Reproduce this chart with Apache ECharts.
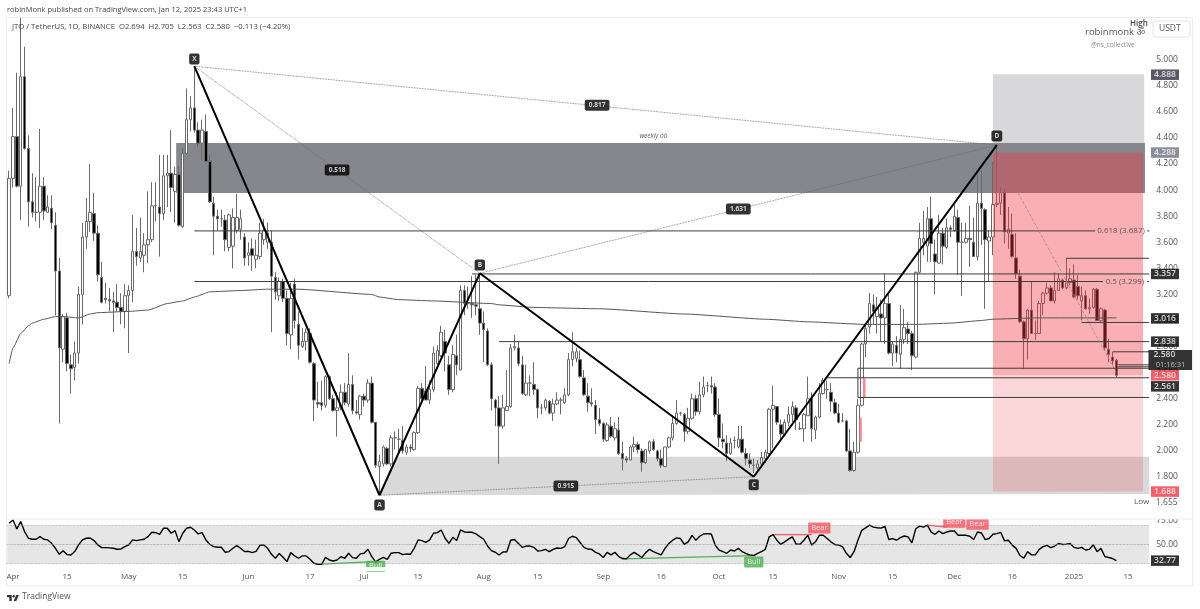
<!DOCTYPE html>
<html>
<head>
<meta charset="utf-8">
<style>html,body{margin:0;background:#fff}#chart{width:1200px;height:609px}</style>
<script src="https://cdn.jsdelivr.net/npm/echarts@6/dist/echarts.min.js"></script>
</head>
<body>
<div id="chart"></div>
<script>
// daily candles, [open, close, low, high]
const marCandles = [[3.19,4.09,3.17,4.15]]
const aprCandles = [[4.09,4.41,4.02,4.63],[4.41,4.03,4.02,4.9],[4.03,4.87,3.77,5.32],[4.87,4.32,4.31,5.1],[4.32,3.91,3.72,4.42],[3.91,3.83,3.79,4.13],[3.83,3.83,3.76,4.1],[3.83,4.03,3.71,4.47],[4.03,3.84,3.77,4.1],[3.83,3.87,3.83,3.96],[3.86,3.75,3.7,3.96],[3.73,3.38,3.04,3.83],[3.38,2.79,2.21,3.48],[2.78,3.03,2.68,3.05],[3.02,2.67,2.61,3.06],[2.66,2.63,2.44,2.74],[2.64,2.75,2.54,2.84],[2.75,3.2,2.67,3.26],[3.2,3.64,2.97,3.75],[3.64,3.76,3.55,3.94],[3.76,3.83,3.68,4.2],[3.82,3.67,3.61,3.98],[3.67,3.35,3.3,3.73],[3.33,3.14,3.13,3.45],[3.17,3.16,3.13,3.29],[3.16,3.15,3.07,3.25],[3.15,3.14,2.91,3.22],[3.14,3.1,3.07,3.28],[3.1,3.07,2.97,3.21],[3.07,3.19,2.94,3.28]]
const mayCandles = [[3.19,3.23,2.75,3.27],[3.23,3.53,3.14,3.81],[3.53,3.49,3.42,3.71],[3.48,3.53,3.45,3.79],[3.5,3.58,3.37,3.67],[3.58,3.62,3.44,3.99],[3.62,3.88,3.6,4.06],[3.88,3.88,3.76,4.06],[3.87,3.82,3.49,4.27],[3.82,4.11,3.77,4.27],[4.11,4.13,3.87,4.27],[4.13,4.02,3.83,4.46],[3.99,4.12,3.75,4.18],[4.12,3.73,3.72,4.18],[3.72,4.28,3.71,4.32],[4.28,4.54,4.28,4.78],[4.54,4.63,4.45,4.72],[4.63,4.46,4.44,4.95],[4.46,4.36,4.33,4.52],[4.36,4.46,4.23,4.54],[4.45,4.22,4.22,4.58],[4.22,3.91,3.9,4.27],[3.9,3.8,3.5,3.95],[3.8,3.78,3.69,3.85],[3.78,3.78,3.72,3.85],[3.77,3.62,3.53,3.81],[3.56,3.81,3.53,3.82],[3.57,3.79,3.4,3.86],[3.69,3.79,3.67,3.97],[3.7,3.78,3.62,3.85],[3.64,3.48,3.42,3.67]]
const junCandles = [[3.5,3.52,3.42,3.6],[3.55,3.5,3.38,3.63],[3.47,3.5,3.4,3.62],[3.49,3.67,3.47,3.75],[3.62,3.69,3.58,3.78],[3.6,3.67,3.55,3.75],[3.6,3.34,2.91,3.69],[3.33,3.22,3.16,3.37],[3.19,3.3,3.15,3.33],[3.3,3.17,3.14,3.32],[3.17,2.9,2.81,3.23],[2.89,3.17,2.78,3.29],[3.28,3,2.94,3.32],[2.97,2.81,2.7,3.07],[2.8,2.84,2.79,2.94],[2.84,2.91,2.77,2.94],[2.9,2.68,2.67,2.94],[2.67,2.39,2.23,2.68],[2.37,2.36,2.33,2.53],[2.37,2.35,2.31,2.54],[2.35,2.57,2.33,2.58],[2.57,2.4,2.39,2.58],[2.4,2.31,2.3,2.43],[2.31,2.33,2.11,2.45],[2.33,2.45,2.31,2.51],[2.45,2.37,2.35,2.52],[2.36,2.51,2.34,2.75],[2.51,2.31,2.28,2.58],[2.3,2.29,2.28,2.39],[2.28,2.42,2.24,2.43]]
const julCandles = [[2.42,2.39,2.34,2.44],[2.39,2.52,2.37,2.55],[2.52,2.22,2.21,2.57],[2.22,1.89,1.87,2.22],[1.88,1.92,1.66,1.97],[1.9,2.03,1.88,2.04],[2.02,1.9,1.89,2.03],[1.9,2.1,1.88,2.12],[2.1,2.1,2.01,2.15],[2.09,2.09,1.98,2.17],[2.08,2,1.98,2.19],[1.99,2.03,1.97,2.05],[2.03,2.02,1.99,2.05],[2.01,2.14,2,2.15],[2.14,2.48,2.13,2.5],[2.48,2.4,2.36,2.52],[2.46,2.39,2.39,2.65],[2.39,2.47,2.36,2.54],[2.47,2.75,2.45,2.8],[2.67,2.77,2.66,2.81],[2.73,2.91,2.72,2.96],[2.84,2.75,2.61,2.93],[2.66,2.47,2.43,2.73],[2.47,2.74,2.45,2.81],[2.73,2.66,2.58,2.89],[2.62,3.23,2.62,3.27],[3.23,3.13,3.04,3.27],[3.13,3.13,3.09,3.26],[3.13,3.12,3.02,3.34],[3.12,3.11,3.04,3.35],[3.09,2.98,2.89,3.36]]
const augCandles = [[2.98,2.93,2.68,3.07],[2.92,2.66,2.65,2.94],[2.66,2.4,2.31,2.68],[2.39,2.33,2.19,2.4],[2.33,2.19,1.9,2.42],[2.19,2.33,2.17,2.43],[2.31,2.34,2.31,2.62],[2.34,2.79,2.33,2.82],[2.79,2.8,2.77,2.89],[2.79,2.67,2.65,2.84],[2.66,2.44,2.43,2.73],[2.43,2.52,2.42,2.66],[2.52,2.52,2.42,2.58],[2.51,2.47,2.43,2.68],[2.47,2.33,2.25,2.48],[2.33,2.33,2.28,2.36],[2.33,2.39,2.31,2.4],[2.38,2.29,2.28,2.39],[2.29,2.36,2.23,2.4],[2.36,2.39,2.35,2.45],[2.39,2.39,2.28,2.41],[2.37,2.43,2.36,2.48],[2.43,2.7,2.42,2.75],[2.7,2.76,2.65,2.91],[2.71,2.76,2.68,2.79],[2.7,2.57,2.56,2.77],[2.56,2.43,2.42,2.62],[2.42,2.37,2.3,2.52],[2.37,2.36,2.34,2.48],[2.35,2.24,2.13,2.39],[2.24,2.21,2.19,2.33]]
const sepCandles = [[2.21,2.09,2.07,2.22],[2.08,2.2,2.07,2.22],[2.19,2.11,2.1,2.26],[2.1,2.17,2.08,2.22],[2.16,1.98,1.97,2.26],[1.98,1.94,1.85,2.07],[1.94,1.93,1.91,1.96],[1.93,2.03,1.93,2.04],[2.03,2.05,1.99,2.11],[2.05,2.01,1.98,2.07],[2,1.91,1.84,2.02],[1.91,2.01,1.9,2.01],[2,2.07,1.98,2.08],[2.07,2.01,2,2.09],[2,1.94,1.92,2.01],[1.94,1.89,1.87,2.01],[1.88,2.03,1.88,2.03],[2.03,2.1,2.02,2.11],[2.1,2.21,2.08,2.26],[2.21,2.29,2.2,2.39],[2.29,2.29,2.27,2.3],[2.28,2.15,2.07,2.29],[2.15,2.25,2.13,2.33],[2.25,2.4,2.24,2.44],[2.4,2.3,2.27,2.43],[2.3,2.43,2.28,2.53],[2.43,2.49,2.41,2.57],[2.5,2.5,2.45,2.53],[2.5,2.49,2.44,2.57],[2.49,2.28,2.26,2.52]]
const octCandles = [[2.28,2.1,2.03,2.4],[2.09,2.07,2.02,2.21],[2.06,1.98,1.92,2.12],[1.98,2.06,1.97,2.1],[2.08,2.08,2.02,2.11],[2.03,2.09,2.02,2.19],[2.09,1.99,1.98,2.19],[1.98,1.94,1.89,2.02],[1.93,1.9,1.87,1.98],[1.89,1.89,1.83,1.94],[1.87,1.9,1.85,1.93],[1.9,1.95,1.88,1.99],[1.94,1.99,1.91,2.01],[1.98,2.32,1.97,2.33],[2.32,2.35,2.02,2.5],[2.34,2.22,2.2,2.34],[2.2,2.13,2.08,2.24],[2.12,2.22,2.11,2.24],[2.22,2.28,2.19,2.34],[2.28,2.34,2.22,2.38],[2.33,2.24,2.16,2.35],[2.17,2.17,2.16,2.22],[2.17,2.28,2.07,2.29],[2.27,2.4,2.27,2.57],[2.4,2.17,2.07,2.45],[2.16,2.26,2.09,2.27],[2.26,2.44,2.25,2.52],[2.44,2.54,2.43,2.56],[2.47,2.47,2.4,2.54],[2.45,2.38,2.3,2.52],[2.37,2.29,2.28,2.4]]
const novCandles = [[2.29,2.22,2.21,2.36],[2.23,2.23,2.22,2.29],[2.23,2,1.99,2.24],[2,1.85,1.84,2.17],[1.85,1.99,1.84,2.07],[1.99,2.35,1.98,2.4],[2.35,2.82,2.34,2.83],[2.82,2.94,2.72,2.97],[2.95,3.13,2.9,3.21],[3.12,3.07,2.97,3.2],[3.03,3.1,2.9,3.18],[3.05,3.02,2.84,3.16],[3.02,3.13,2.82,3.36],[3.13,2.75,2.74,3.2],[2.75,2.82,2.65,2.84],[2.81,2.75,2.68,2.88],[2.74,2.855,2.63,3.12],[2.855,2.945,2.82,3.09],[2.935,2.9,2.82,2.99],[2.9,2.73,2.62,2.92],[2.72,3.37,2.71,3.375],[3.37,3.63,3.36,3.75],[3.6,3.63,3.5,3.84],[3.57,3.78,3.45,3.87],[3.78,3.59,3.45,3.95],[3.51,3.45,3.2,3.62],[3.44,3.67,3.44,3.81],[3.67,3.57,3.43,3.71],[3.56,3.71,3.55,3.78],[3.71,3.7,3.64,3.73]]
const decCandles = [[3.69,3.8,3.68,3.89],[3.79,3.6,3.35,3.85],[3.6,3.6,3.19,3.75],[3.6,3.63,3.59,3.75],[3.63,3.62,3.41,3.88],[3.6,3.49,3.49,3.79],[3.49,3.9,3.46,4.12],[3.9,3.86,3.58,4.15],[3.85,3.62,3.09,3.86],[3.61,3.64,3.3,3.69],[3.64,3.89,3.5,4.22],[3.89,3.9,3.87,4.35],[3.9,3.98,3.81,4.02],[3.98,3.68,3.59,4.01],[3.67,3.7,3.55,3.87],[3.66,3.49,3.48,3.82],[3.48,3.36,3.32,3.67],[3.34,2.99,2.98,3.39],[2.99,2.86,2.63,3],[2.86,3.08,2.7,3.09],[3.08,2.9,2.9,3.3],[2.9,2.9,2.85,3],[2.9,3.13,2.9,3.15],[3.13,3.21,3.04,3.22],[3.21,3.25,3.2,3.29],[3.25,3.15,3.15,3.27],[3.15,3.23,3.13,3.37],[3.23,3.32,3.23,3.36],[3.31,3.25,3.24,3.32],[3.25,3.29,3.24,3.48],[3.29,3.32,3.27,3.4]]
const janCandles = [[3.31,3.18,3.17,3.43],[3.26,3.19,3.16,3.35],[3.15,3.19,3,3.26],[3.19,3.09,3.08,3.23],[3.09,3.1,3.05,3.17],[3.1,3.24,3.09,3.25],[3.24,3,3,3.25],[3,3.09,2.99,3.1],[3.08,2.79,2.77,3.09],[2.78,2.74,2.68,2.86],[2.72,2.69,2.66,2.76],[2.694,2.58,2.563,2.705]]

// rsi, one reading per day
const rsiFirstLeg = [72.5,76,66.5,74.3,63.7,56.6,55.5,55.5,58.3,55.5,54.8,51.2,45.9,39.5,43.4,39.2,38.8,42.4,49.5,54.8,56.6,56.9,54.1,49.5,46.6,46.6,46.3,45.9,44.9,45.2,47.7,49.5,54.8,54.1,54.8,55.5,58.3,62.9,62.6,60.8,67.2,67.2,61.9,64.7,53,61.9,67.2,68.3,65.4,61.2,62.6,54.8,50.2,47.7,47,47,41.7,42.4,45.9,48.8,45.9,42.4]
const rsiSecondLeg = [42.7,41.3,42.7,49.1,49.5,45.9,39.5,35.3,40.3,36.3,31.7,41.3,37.8,35.3,37.8,37.8,34.2,30,28.9,28.9,36.3,33.5,32.4,33.5,37,35.3,40.6,36,35.3,40,40.6,44.9,37,31.4,34.2,36.3,34.2,40.6,41.3,41.3,39.2,39.9,39.5,45.9,54.8,54.1,52.3,54.8,61.9,62.6,65.4,56.6,51.2,57.6,54.1,65.4,63.3,62.9,62.9,61.2,58.3]
const rsiThirdLeg = [55.5,48.4,43.4,41.7,38.8,42,42.3,54.5,55.2,51,46.9,48.3,48.3,46.9,43,43.4,44.8,42.3,44.8,46.2,45.8,47.6,56.3,58.7,57.3,52.1,46.9,45.1,44.8,41.6,39.9,36.1,41.6,38.9,41.6,37.1,35,34.7,38.9,41.6,38.9,36.1,41.3,44.8,42.3,40.6,38.9,45.8,51,54.5,57,56.3,50,52.8,59.7,54.5,58.7,61.1,61.5,61.1,49.3]
const rsiFourthLeg = [44.1,42.3,40.6,44.1,43,45.8,42.3,40.3,38.9,38.2,40.6,42.3,44.8,58,60.4,54.5,50,52.8,55.6,58,50.3,50.3,54.5,59.7,49.3,52.8,59.7,59.7,56.3,52.8,50,49.3,47.6,40.6,36.1,42.3,54.5,65,67.7,70.5,68.4,67.7,67.4,69.1,55.2,56.3,54.5,57.3,59,58,51.7,66.7,69.5,68.4,70.5,63.2,60.8,64.3,61.5,63.2,64.3]
const rsiFifthLeg = [64.3,59.7,59.7,59.7,58.7,55.2,63.2,62.2,55.2,56.3,60.8,61.5,62.9,53.8,54.5,49.3,45.8,38.2,35.4,42.3,38.9,38.9,44.8,47.6,49,46.5,48.3,51,50,50.3,51,46.9,45.8,46.9,44.1,44.8,49.7,42.3,45.8,37.1,36.1,35,32.77]

// moving average read at the days where it bends
const maDays = [0,1,3,5,6,9,12,14,18,21,23,31,36,41,45,48,52,60,67,75,94,96,101,110,125,127,136,153,175,196,207,222,231,235,244,252,255,266,287]
const maValues = [2.67,2.79,2.9,2.96,2.98,3.01,3.03,3.03,3.02,3.05,3.06,3.07,3.08,3.13,3.15,3.18,3.22,3.23,3.24,3.24,3.2,3.18,3.16,3.15,3.13,3.12,3.1,3.09,3.05,3.01,2.99,2.97,2.97,2.97,2.98,3,3.01,3.02,3.02]

// harmonic pattern pivots
const pivotNames = ['X', 'A', 'B', 'C', 'D']
const pivotDays = [48, 96, 122, 193, 256]
const pivotPrices = [4.95, 1.66, 3.362, 1.802, 4.345]
const pivotLabelPrices = [5.005, 1.585, 3.425, 1.74, 4.415]

const ratioTexts = ['0.817', '0.518', '1.631', '0.915']
const ratioDays = [152.4, 85, 189, 144.3]
const ratioPrices = [4.65, 4.154, 3.855, 1.73]

// horizontal levels: start day, end day, price
const levelStarts = [48, 295, 48, 295, 120, 127, 220, 220, 212, 274, 278, 286, 287.5, 287.5]
const levelEnds = [281.5, 295.5, 283.5, 295.5, 295.5, 295.5, 295.5, 295.5, 295.5, 295.5, 295.5, 295.5, 295.5, 295.5]
const levelPrices = [3.687, 3.687, 3.299, 3.299, 3.357, 2.838, 2.634, 2.41, 2.561, 3.477, 2.985, 2.76, 2.66, 2.645]

// price tags on the right scale
const tagTexts = ['4.888', '4.288', '3.357', '3.016', '2.838', '2.580', '2.561', '1.688']
const tagPrices = [4.885, 4.288, 3.357, 3.016, 2.838, 2.58, 2.495, 1.688]
const tagColors = ['#2e303c', '#6f727d', '#000', '#000', '#000', '#f23645', '#000', '#f23645']

const tickDays = [1, 15, 31, 45, 62, 78, 92, 106, 123, 137, 154, 169, 184, 198, 215, 229, 245, 260, 276, 290]
const tickLabels = ['Apr', '15', 'May', '15', 'Jun', '17', 'Jul', '15', 'Aug', '15', 'Sep', '16', 'Oct', '15', 'Nov', '15', 'Dec', '16', '2025', '15']
const priceTicks = [5, 4.8, 4.6, 4.4, 4.2, 4, 3.8, 3.6, 3.4, 3.2, 3, 2.8, 2.6, 2.4, 2.2, 2, 1.8]

const candles = [...marCandles, ...aprCandles, ...mayCandles, ...junCandles, ...julCandles, ...augCandles, ...sepCandles, ...octCandles, ...novCandles, ...decCandles, ...janCandles]
const rsi = [...rsiFirstLeg, ...rsiSecondLeg, ...rsiThirdLeg, ...rsiFourthLeg, ...rsiFifthLeg]
const dayCount = 296
const categories = Array.from({ length: dayCount }, (v, i) => String(i))
const font = '"Open Sans", "Noto Sans", sans-serif'

const zone = (x0, x1, p0, p1, color, z) => ({
  type: 'custom',
  xAxisIndex: 1,
  yAxisIndex: 0,
  z,
  silent: true,
  data: [[x0, x1, p0, p1]],
  renderItem (params, api) {
    const a = api.coord([api.value(0), api.value(2)])
    const b = api.coord([api.value(1), api.value(3)])
    return { type: 'rect', shape: { x: a[0], y: a[1], width: b[0] - a[0], height: b[1] - a[1] }, style: { fill: color } }
  }
})

const segment = (points, color, width, z, type = 'solid') => ({
  type: 'line',
  xAxisIndex: 1,
  yAxisIndex: 0,
  data: points,
  symbol: 'none',
  silent: true,
  z,
  lineStyle: { color, width, type }
})

const textMarks = (items, label, z = 8) => ({
  type: 'scatter',
  xAxisIndex: 1,
  yAxisIndex: 0,
  symbolSize: 1,
  itemStyle: { color: 'transparent' },
  silent: true,
  clip: false,
  z,
  label: { show: true, position: 'inside', fontFamily: font, formatter: p => p.name, ...label },
  data: items
})

const pivotLeg = (i, j, color, width, type) => segment([[pivotDays[i], pivotPrices[i]], [pivotDays[j], pivotPrices[j]]], color, width, 6, type)

const series = [
  zone(255, 294.2, 4.36, 4.888, '#d8d8da', 1),
  zone(43.3, 294.4, 3.978, 4.361, '#85878d', 1),
  {
    // support box, its left edge follows the A-B leg
    type: 'custom',
    xAxisIndex: 1,
    yAxisIndex: 0,
    z: 1,
    silent: true,
    data: [[96, 1.66, 100.5, 1.955, 295.5, 1.955, 295.5, 1.67]],
    renderItem (params, api) {
      const pts = [0, 2, 4, 6].map(k => api.coord([api.value(k), api.value(k + 1)]))
      return { type: 'polygon', shape: { points: pts }, style: { fill: '#d9d9d9' } }
    }
  },
  {
    name: 'JTO',
    type: 'candlestick',
    xAxisIndex: 0,
    yAxisIndex: 0,
    z: 2,
    barWidth: 3,
    silent: true,
    itemStyle: { color: '#fff', color0: '#000', borderColor: '#6a6a6a', borderColor0: '#6a6a6a', borderWidth: 1 },
    data: candles
  },
  zone(255, 293.9, 2.58, 4.288, 'rgba(242,54,69,0.4)', 3),
  zone(255, 293.9, 1.688, 2.58, 'rgba(242,54,69,0.2)', 3),
  zone(221.3, 222, 2.41, 2.556, '#f28b95', 3),
  zone(220.4, 221, 2.07, 2.255, '#f28b95', 3),
  {
    type: 'line',
    xAxisIndex: 1,
    yAxisIndex: 0,
    symbol: 'none',
    smooth: 0.15,
    smoothMonotone: 'x',
    silent: true,
    z: 4,
    lineStyle: { color: '#555', width: 1 },
    data: maDays.map((d, i) => [d, maValues[i]])
  },
  ...levelStarts.map((s, i) => segment([[s, levelPrices[i]], [levelEnds[i], levelPrices[i]]], '#3c3c3c', 1, 5)),
  segment([[220, 2.41], [220, 2.634]], '#3c3c3c', 1, 5),
  segment([[261.5, 3.98], [287, 2.6]], '#9a8a8a', 0.8, 5, 'dashed'),
  pivotLeg(0, 4, '#666', 0.8, 'dotted'),
  pivotLeg(0, 2, '#666', 0.8, 'dotted'),
  pivotLeg(1, 3, '#666', 0.8, 'dotted'),
  pivotLeg(2, 4, '#666', 0.8, 'dotted'),
  pivotLeg(0, 1, '#000', 2),
  pivotLeg(1, 2, '#000', 2),
  pivotLeg(2, 3, '#000', 2),
  pivotLeg(3, 4, '#000', 2),
  textMarks(pivotNames.map((n, i) => ({ name: n, value: [pivotDays[i], pivotLabelPrices[i]] })),
    { color: '#fff', backgroundColor: '#000', borderRadius: 2, padding: [2, 3], fontSize: 6.5, fontWeight: 'bold' }),
  textMarks(ratioTexts.map((n, i) => ({ name: n, value: [ratioDays[i], ratioPrices[i]] })),
    { color: '#fff', backgroundColor: '#000', borderRadius: 2, padding: [2, 4], fontSize: 6.5, fontWeight: 'bold' }),
  textMarks([{ name: 'weekly ob', value: [167, 4.415] }], { color: '#333', fontSize: 6.5, fontStyle: 'italic' }),
  textMarks([{ name: '0.618 (3.687)', value: [288.2, 3.687] }, { name: '0.5 (3.299)', value: [289.2, 3.299] }], { color: '#3a3a3a', fontSize: 8 }),
  // rsi pane
  {
    name: 'RSI',
    type: 'line',
    xAxisIndex: 2,
    yAxisIndex: 1,
    symbol: 'none',
    silent: true,
    z: 4,
    lineStyle: { color: '#000', width: 1.4 },
    data: rsi,
    markArea: { silent: true, itemStyle: { color: '#e6e6e6' }, data: [[{ yAxis: 30 }, { yAxis: 70 }]] },
    markLine: {
      silent: true,
      symbol: 'none',
      label: { show: false },
      lineStyle: { color: '#8a8a8a', width: 0.7, type: 'dotted' },
      data: [{ yAxis: 70 }, { yAxis: 50 }, { yAxis: 30 }]
    }
  },
  { type: 'line', xAxisIndex: 2, yAxisIndex: 1, symbol: 'none', silent: true, z: 3, lineStyle: { color: '#4caf50', width: 1.2 }, data: [['81', 29], ['96', 32]] },
  { type: 'line', xAxisIndex: 2, yAxisIndex: 1, symbol: 'none', silent: true, z: 3, lineStyle: { color: '#4caf50', width: 1.2 }, data: [['159', 34.7], ['193', 38.2]] },
  { type: 'line', xAxisIndex: 2, yAxisIndex: 1, symbol: 'none', silent: true, z: 3, lineStyle: { color: '#f7525f', width: 1.2 }, data: [['198', 60.4], ['208', 60.4]] },
  { type: 'line', xAxisIndex: 2, yAxisIndex: 1, symbol: 'none', silent: true, z: 3, lineStyle: { color: '#f7525f', width: 1.2 }, data: [['238', 70.5], ['243', 68.4]] },
  {
    type: 'scatter',
    xAxisIndex: 2,
    yAxisIndex: 1,
    symbolSize: 1,
    itemStyle: { color: 'transparent' },
    silent: true,
    clip: false,
    z: 8,
    label: { show: true, position: 'inside', fontFamily: font, fontSize: 7.5, color: '#fff', borderRadius: 1, padding: [1.5, 3], formatter: p => p.name },
    data: [
      { name: 'Bull', value: ['95', 26.8], label: { backgroundColor: '#4caf50' } },
      { name: 'Bull', value: ['193', 31.3], label: { backgroundColor: '#4caf50' } },
      { name: 'Bear', value: ['210', 67.5], label: { backgroundColor: '#f7525f' } },
      { name: 'Bear', value: ['245', 73.5], label: { backgroundColor: '#f7525f' } },
      { name: 'Bear', value: ['251', 71.5], label: { backgroundColor: '#f7525f' } }
    ]
  },
  // tags sitting on the right scales
  {
    type: 'scatter',
    xAxisIndex: 3,
    yAxisIndex: 2,
    symbolSize: 1,
    itemStyle: { color: 'transparent' },
    silent: true,
    clip: false,
    z: 9,
    label: { show: true, position: 'inside', fontFamily: font, fontSize: 8.5, fontWeight: 600, color: '#fff', width: 28, height: 10.5, lineHeight: 10.5, align: 'center', formatter: p => p.name },
    data: tagTexts.map((t, i) => ({ name: t, value: [15, tagPrices[i]], label: { backgroundColor: tagColors[i] } }))
  },
  {
    type: 'scatter',
    xAxisIndex: 3,
    yAxisIndex: 2,
    symbolSize: 1,
    itemStyle: { color: 'transparent' },
    silent: true,
    clip: false,
    z: 10,
    label: {
      show: true,
      position: 'inside',
      fontFamily: font,
      formatter: '{a|2.580}\n{b|01:16:31}',
      backgroundColor: '#000',
      rich: {
        a: { color: '#fff', fontSize: 8.5, fontWeight: 600, lineHeight: 10, width: 39, align: 'left', padding: [0, 0, 0, 5] },
        b: { color: '#ddd', fontSize: 7.5, lineHeight: 10, width: 39, align: 'center' }
      }
    },
    data: [[20.5, 2.697]]
  },
  {
    type: 'scatter',
    xAxisIndex: 4,
    yAxisIndex: 3,
    symbolSize: 1,
    itemStyle: { color: 'transparent' },
    silent: true,
    clip: false,
    z: 9,
    label: { show: true, position: 'inside', fontFamily: font, fontSize: 8.5, fontWeight: 600, color: '#fff', backgroundColor: '#000', width: 28, height: 10.5, lineHeight: 10.5, align: 'center', formatter: '32.77' },
    data: [[15, 32.77]]
  }
]

const hiddenAxis = { show: false, axisLine: { show: false }, axisTick: { show: false }, axisLabel: { show: false }, splitLine: { show: false } }

const chart = echarts.init(document.getElementById('chart'), null, { renderer: 'canvas' })
chart.setOption({
  animation: false,
  backgroundColor: '#fff',
  textStyle: { fontFamily: font },
  grid: [
    { left: 7.2, top: 18, width: 1142, height: 500 },
    { left: 7.2, top: 520, width: 1142, height: 47 },
    { left: 1150, top: 18, width: 42, height: 500 },
    { left: 1150, top: 520, width: 42, height: 47 }
  ],
  xAxis: [
    { type: 'category', gridIndex: 0, data: categories, ...hiddenAxis },
    { type: 'value', gridIndex: 0, min: -0.5, max: 295.5, ...hiddenAxis },
    {
      type: 'category',
      gridIndex: 1,
      data: categories,
      axisLine: { show: false },
      axisTick: { show: false },
      axisLabel: {
        color: '#555',
        fontSize: 8,
        margin: 6,
        interval: i => tickDays.includes(i),
        formatter: (v, i) => tickLabels[tickDays.indexOf(i)] ?? ''
      }
    },
    { type: 'value', gridIndex: 2, min: 0, max: 42, ...hiddenAxis },
    { type: 'value', gridIndex: 3, min: 0, max: 42, ...hiddenAxis }
  ],
  yAxis: [
    {
      type: 'value',
      gridIndex: 0,
      position: 'right',
      min: 1.4855,
      max: 5.3198,
      axisLine: { show: false },
      axisTick: { show: false },
      splitLine: { show: false },
      axisLabel: { customValues: priceTicks, color: '#555', fontSize: 8.5, margin: 7, formatter: v => v.toFixed(3) }
    },
    {
      type: 'value',
      gridIndex: 1,
      position: 'right',
      min: 26,
      max: 76,
      axisLine: { show: false },
      axisTick: { show: false },
      splitLine: { show: false },
      axisLabel: { customValues: [50, 75], color: '#555', fontSize: 8.5, margin: 7, formatter: v => v.toFixed(2) }
    },
    { type: 'value', gridIndex: 2, min: 1.4855, max: 5.3198, ...hiddenAxis },
    { type: 'value', gridIndex: 3, min: 26, max: 76, ...hiddenAxis }
  ],
  series,
  graphic: [
    // pane frame
    { type: 'rect', z: 20, silent: true, shape: { x: 6.5, y: 17.5, width: 1186, height: 568.5 }, style: { fill: 'none', stroke: '#ececec', lineWidth: 1 } },
    { type: 'rect', z: 19, silent: true, shape: { x: 1150, y: 514, width: 42, height: 5 }, style: { fill: '#fff' } },
    { type: 'rect', z: 19, silent: true, shape: { x: 340, y: 514, width: 700, height: 5 }, style: { fill: '#fff' } },
    { type: 'rect', z: 19, silent: true, shape: { x: 340, y: 567, width: 60, height: 4 }, style: { fill: '#fff' } },
    { type: 'line', z: 20, silent: true, shape: { x1: 7, y1: 519, x2: 1192, y2: 519 }, style: { stroke: '#ececec', lineWidth: 1 } },
    { type: 'text', z: 20, silent: true, x: 7, y: 6, style: { text: 'robinMonk published on TradingView.com, Jan 12, 2025 23:43 UTC+1', fill: '#444', font: '7.5px ' + font } },
    { type: 'text', z: 20, silent: true, x: 12, y: 23, style: { text: 'JTO / TetherUS, 1D, BINANCE  O2.694  H2.705  L2.563  C2.580  −0.113 (−4.20%)', fill: '#444', font: '7.7px ' + font } },
    { type: 'text', z: 20, silent: true, x: 1130, y: 20, style: { text: 'High', fill: '#444', font: '600 8px ' + font } },
    { type: 'text', z: 20, silent: true, x: 1085, y: 27, style: { text: 'robinmonk ॐ', fill: '#555', font: '9.5px ' + font } },
    { type: 'text', z: 20, silent: true, x: 1091, y: 42, style: { text: '@ns_collective', fill: '#888', font: '6.5px ' + font } },
    { type: 'text', z: 20, silent: true, x: 1134, y: 498, style: { text: 'Low', fill: '#555', font: '8px ' + font } },
    { type: 'text', z: 20, silent: true, x: 1156, y: 498, style: { text: '1.655', fill: '#555', font: '8.5px ' + font } },
    { type: 'rect', z: 20, silent: true, shape: { x: 1153, y: 21, width: 37, height: 16, r: 2 }, style: { fill: '#fff', stroke: '#e4e4e4', lineWidth: 1 } },
    { type: 'text', z: 21, silent: true, x: 1159, y: 24, style: { text: 'USDT', fill: '#555', font: '8.5px ' + font } },
    // TradingView mark
    { type: 'polygon', z: 20, silent: true, shape: { points: [[11.7, 601], [9.3, 601], [9.3, 597.3], [7, 597.3], [7, 595], [11.7, 595]] }, style: { fill: '#333' } },
    { type: 'polygon', z: 20, silent: true, shape: { points: [[16.3, 601], [13.7, 601], [16.2, 595], [18.8, 595]] }, style: { fill: '#333' } },
    { type: 'circle', z: 20, silent: true, shape: { cx: 13.7, cy: 596.2, r: 1.2 }, style: { fill: '#333' } },
    { type: 'text', z: 20, silent: true, x: 22, y: 592, style: { text: 'TradingView', fill: '#555', font: '8.5px ' + font } }
  ]
})
</script>
</body>
</html>
